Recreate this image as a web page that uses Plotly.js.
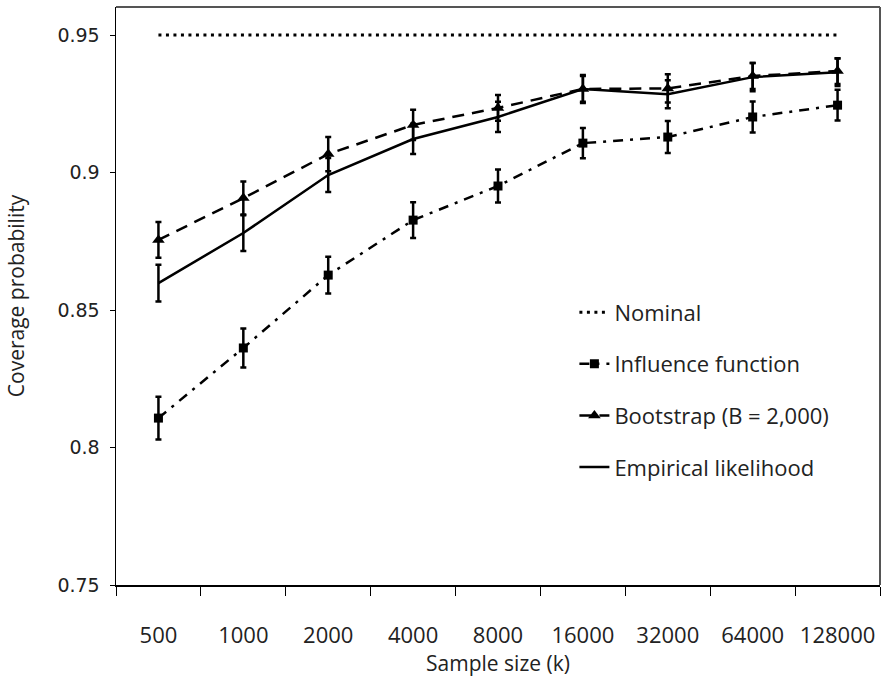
<!DOCTYPE html>
<html>
<head>
<meta charset="utf-8">
<script src="https://cdn.plot.ly/plotly-3.0.1.min.js"></script>
<style>html,body{margin:0;padding:0;background:#fff;}#chart{width:881px;height:677px;}</style>
</head>
<body>
<div id="chart"></div>
<script>
const sampleSizes = ["500","1000","2000","4000","8000","16000","32000","64000","128000"];
const nominalValue = 0.95;
const influenceCoverage = [0.8107, 0.8362, 0.8627, 0.8827, 0.8951, 0.9107, 0.9129, 0.9202, 0.9245];
const influenceError    = [0.0078, 0.0071, 0.0067, 0.0065, 0.0060, 0.0055, 0.0058, 0.0056, 0.0056];
const bootstrapCoverage = [0.8755, 0.8907, 0.9067, 0.9173, 0.9235, 0.9304, 0.9306, 0.9351, 0.9369];
const bootstrapError    = [0.0065, 0.0060, 0.0062, 0.0055, 0.0047, 0.0047, 0.0051, 0.0047, 0.0047];
const empiricalCoverage = [0.8598, 0.8780, 0.8991, 0.9122, 0.9202, 0.9304, 0.9285, 0.9347, 0.9365];
const empiricalError    = [0.0067, 0.0065, 0.0062, 0.0055, 0.0055, 0.0051, 0.0051, 0.0051, 0.0050];

const labelFont = "'Open Sans', 'Noto Sans', sans-serif";

const traces = [
  {
    name: "Nominal", legendgroup: "a",
    x: [sampleSizes[0], sampleSizes[sampleSizes.length - 1]],
    y: [nominalValue, nominalValue],
    mode: "lines", line: {color: "#000", width: 3, dash: "3px,4.5px"},
    hoverinfo: "skip"
  },
  {
    name: "Influence function", legendgroup: "b",
    x: sampleSizes, y: influenceCoverage,
    error_y: {type: "data", array: influenceError, visible: true, color: "#000", thickness: 2.5, width: 3},
    mode: "lines+markers",
    line: {color: "#000", width: 2.5, dash: "10px,7px,3px,7px"},
    marker: {symbol: "square", size: 9, color: "#000"},
    hoverinfo: "skip"
  },
  {
    name: "Bootstrap (B = 2,000)", legendgroup: "c",
    x: sampleSizes, y: bootstrapCoverage,
    error_y: {type: "data", array: bootstrapError, visible: true, color: "#000", thickness: 2.5, width: 3},
    mode: "lines+markers",
    line: {color: "#000", width: 2.5, dash: "12px,8px"},
    marker: {symbol: "triangle-up", size: 11, color: "#000"},
    hoverinfo: "skip"
  },
  {
    name: "Empirical likelihood", legendgroup: "d",
    x: sampleSizes, y: empiricalCoverage,
    error_y: {type: "data", array: empiricalError, visible: true, color: "#000", thickness: 2.5, width: 3},
    mode: "lines",
    line: {color: "#000", width: 2.5},
    hoverinfo: "skip"
  }
];

const layout = {
  width: 881, height: 677,
  margin: {l: 116, r: 1, t: 7, b: 92},
  paper_bgcolor: "#fff", plot_bgcolor: "#fff",
  showlegend: true,
  legend: {
    x: 0.6, xanchor: "left", y: 0.508, yanchor: "top",
    bgcolor: "rgba(0,0,0,0)", borderwidth: 0,
    font: {family: labelFont, size: 22, color: "#222"},
    tracegroupgap: 20, itemwidth: 30, traceorder: "grouped"
  },
  xaxis: {
    type: "category", categoryorder: "array", categoryarray: sampleSizes,
    range: [-0.5, 8.5],
    tickson: "boundaries", ticks: "outside", ticklen: 9, tickwidth: 1, tickcolor: "#000",
    showline: true, linecolor: "#000", linewidth: 1.5,
    showgrid: false, zeroline: false,
    tickfont: {family: labelFont, size: 22, color: "#222"},
    ticklabelstandoff: 30,
    title: {text: "Sample size (k)", font: {family: labelFont, size: 21, color: "#222"}, standoff: 9},
    fixedrange: true
  },
  yaxis: {
    range: [0.75, 0.9602],
    tickvals: [0.75, 0.8, 0.85, 0.9, 0.95],
    ticktext: ["0.75", "0.8", "0.85", "0.9", "0.95"],
    ticks: "outside", ticklen: 5, tickwidth: 1, tickcolor: "#000",
    showline: true, linecolor: "#000", linewidth: 1.5,
    showgrid: false, zeroline: false,
    tickfont: {family: "'DejaVu Sans', sans-serif", size: 19, color: "#222"},
    ticklabelstandoff: 6,
    title: {text: "Coverage probability", font: {family: labelFont, size: 21, color: "#222"}, standoff: 27},
    fixedrange: true
  },
  shapes: [
    {type: "line", xref: "paper", yref: "paper", x0: 0, x1: 1, y0: 1, y1: 1, line: {color: "#555", width: 2}},
    {type: "line", xref: "paper", yref: "paper", x0: 1, x1: 1, y0: 0, y1: 1, line: {color: "#555", width: 2}}
  ]
};

Plotly.newPlot("chart", traces, layout, {displayModeBar: false, staticPlot: true});
</script>
</body>
</html>
